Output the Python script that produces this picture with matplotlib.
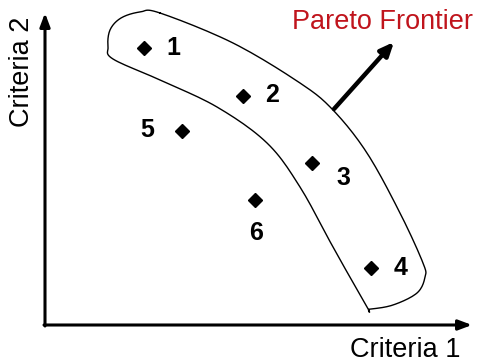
import numpy as np
import matplotlib
matplotlib.use("Agg")
import matplotlib.pyplot as plt

plt.rcParams['font.family'] = ['Liberation Sans', 'DejaVu Sans']

# data (criteria values)
labels = ["1", "2", "3", "4", "5", "6"]
crit1 = [99, 198, 267, 326, 137, 210]
crit2 = [277, 229, 162, 57, 194, 125]
label_dx = [29, 29, 31, 30, -35, 1]
label_dy = [0, 1, -15, 0, 1, -33]

fig = plt.figure(figsize=(4.78, 3.64), dpi=100)
ax = fig.add_axes([0, 0, 1, 1])
ax.set_xlim(-45, 433)
ax.set_ylim(-39, 325)
ax.axis('off')

# outline of the frontier region (pixel coords of reference -> data)
outline_px = [(160, 13), (233, 43), (300, 83), (333, 110), (367, 153), (400, 213),
              (423, 263), (425, 277), (417, 293), (393, 305), (370, 309), (367, 307),
              (333, 247), (300, 187), (267, 143), (217, 107), (160, 80), (113, 59),
              (108, 47), (110, 30), (121, 18), (140, 12)]
P = np.array([(x - 45, 325 - y) for x, y in outline_px], float)
n = len(P)
pts = []
for i in range(n):
    p0, p1, p2, p3 = P[i - 1], P[i], P[(i + 1) % n], P[(i + 2) % n]
    for t in np.linspace(0, 1, 12, endpoint=False):
        t2, t3 = t * t, t * t * t
        pts.append(0.5 * ((2 * p1) + (-p0 + p2) * t + (2 * p0 - 5 * p1 + 4 * p2 - p3) * t2
                          + (-p0 + 3 * p1 - 3 * p2 + p3) * t3))
pts.append(pts[0])
pts = np.array(pts)
ax.plot(pts[:, 0], pts[:, 1], color='black', lw=1.0)

# axes arrows
ax.annotate('', xy=(427, 0), xytext=(-1, 0),
            arrowprops=dict(arrowstyle='-|>,head_length=0.8,head_width=0.3', color='black', lw=2.2,
                            shrinkA=0, shrinkB=0))
ax.annotate('', xy=(0, 312), xytext=(0, -1),
            arrowprops=dict(arrowstyle='-|>,head_length=0.8,head_width=0.3', color='black', lw=2.2,
                            shrinkA=0, shrinkB=0))

# points
ax.plot(crit1, crit2, linestyle='none', marker='D', markersize=7.5, color='black')
for lab, x, y, dx, dy in zip(labels, crit1, crit2, label_dx, label_dy):
    ax.text(x + dx, y + dy, lab, fontsize=18, fontweight='bold', ha='center', va='center')

# Pareto frontier arrow
ax.annotate('', xy=(349, 283), xytext=(289, 216),
            arrowprops=dict(arrowstyle='-|>,head_length=0.8,head_width=0.35', color='black', lw=3.2,
                            shrinkA=0, shrinkB=0))
ax.text(338, 303, "Pareto Frontier", color='#C0141C', fontsize=19.5, ha='center', va='center')

ax.text(360, -25, "Criteria 1", fontsize=19.5, ha='center', va='center')
ax.text(-23, 253, "Criteria 2", fontsize=19.5, ha='center', va='center', rotation=90)

fig.savefig("out.png", dpi=100)
